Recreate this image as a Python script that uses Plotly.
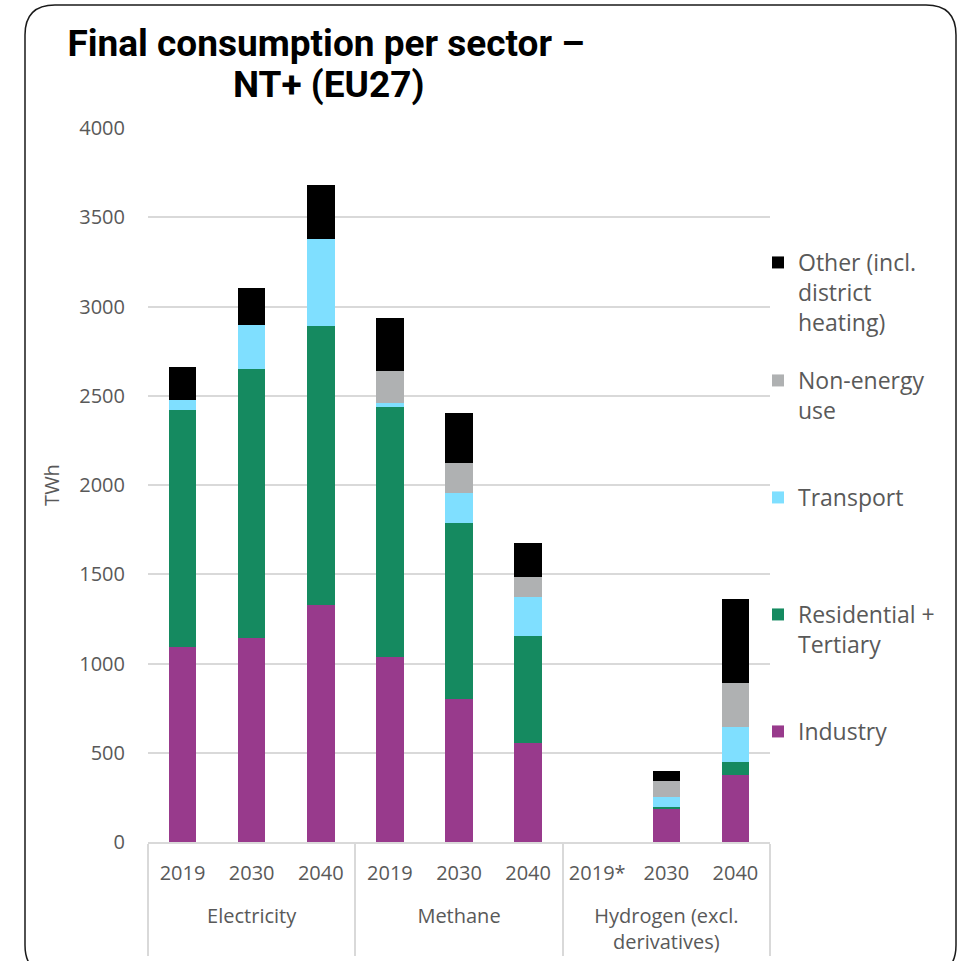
import plotly.graph_objects as go

# Final energy consumption by carrier and year (TWh)
carriers = ["Electricity"] * 3 + ["Methane"] * 3 + ["Hydrogen (excl.<br>derivatives)"] * 3
# hydrogen year labels carry a zero-width space so that "2019*" sorts first in its group
ZW = "\u200b"
years = ["2019", "2030", "2040", "2019", "2030", "2040", "2019*", "2030" + ZW, "2040" + ZW]

industry = [1092, 1143, 1328, 1036, 801, 555, 0, 185, 377]
residential_tertiary = [1328, 1505, 1563, 1401, 986, 599, 0, 11, 71]
transport = [54, 250, 489, 24, 168, 219, 0, 56, 196]
non_energy = [0, 0, 0, 178, 167, 113, 0, 91, 247]
other = [185, 204, 302, 297, 280, 189, 0, 53, 470]

series = [
    ("Industry", industry, "#983A8C"),
    ("Residential +<br>Tertiary", residential_tertiary, "#158A60"),
    ("Transport", transport, "#7FDFFF"),
    ("Non-energy<br>use", non_energy, "#AFB1B2"),
    ("Other (incl.<br>district<br>heating)", other, "#000000"),
]

W, H = 965, 961
L, R, T, B = 148, 770, 128, 842  # plot area in pixels


def px(x, y):
    return (x - L) / (R - L), (B - y) / (B - T)


FONT = "Open Sans, Lato, sans-serif"
TITLE_FONT = "Roboto, sans-serif"
GREY = "#595959"

fig = go.Figure()
legend_ids = ["legend", "legend2", "legend3", "legend4", "legend5"]
legend_tops = [710, 593, 476, 359, 241]  # pixel y of each legend entry

for (name, vals, color), lid in zip(series, legend_ids):
    fig.add_trace(go.Bar(
        x=[["<br>" + c for c in carriers], years], y=vals, name=name,
        marker=dict(color=color, line=dict(width=0)),
        legend=lid, showlegend=True,
    ))

legend_layout = {}
for lid, top in zip(legend_ids, legend_tops):
    legend_layout[lid] = dict(
        x=px(758, 0)[0], xanchor="left",
        y=px(0, top)[1], yanchor="top",
        bgcolor="rgba(0,0,0,0)", valign="top",
        font=dict(family=FONT, size=23, color=GREY),
    )

# rounded outer frame
x0, x1, y0, y1, r = 25, 956, 5, 975, 30


def P(x, y):
    a, b = px(x, y)
    return f"{a:.5f},{b:.5f}"


frame = (
    f"M {P(x0 + r, y0)} L {P(x1 - r, y0)} Q {P(x1, y0)} {P(x1, y0 + r)} "
    f"L {P(x1, y1 - r)} Q {P(x1, y1)} {P(x1 - r, y1)} "
    f"L {P(x0 + r, y1)} Q {P(x0, y1)} {P(x0, y1 - r)} "
    f"L {P(x0, y0 + r)} Q {P(x0, y0)} {P(x0 + r, y0)} Z"
)

fig.update_layout(
    width=W, height=H,
    margin=dict(l=L, r=W - R, t=T, b=H - B, autoexpand=False),
    paper_bgcolor="white", plot_bgcolor="white",
    barmode="stack", bargap=0.6, showlegend=True,
    title=dict(
        text="<b>Final consumption per sector –</b>",
        x=326 / W, xanchor="center", y=1 - 43 / H, yanchor="middle",
        font=dict(family=TITLE_FONT, size=37, color="#000000"),
    ),
    annotations=[dict(
        text="<b>NT+ (EU27)</b>", xref="paper", yref="paper",
        x=px(328, 0)[0], y=px(0, 84)[1], xanchor="center", yanchor="middle",
        showarrow=False, font=dict(family=TITLE_FONT, size=37, color="#000000"),
    )],
    xaxis=dict(
        type="multicategory",
        showline=True, linecolor="#D9D9D9", linewidth=1.5,
        showdividers=True, dividercolor="#D9D9D9", dividerwidth=1.5,
        ticklabelstandoff=12,
        tickfont=dict(family=FONT, size=20, color=GREY),
        showgrid=False,
    ),
    yaxis=dict(
        range=[0, 4000], dtick=500,
        showgrid=True, gridcolor="#D9D9D9", gridwidth=1.5,
        zeroline=False, showline=False,
        ticks="outside", ticklen=18, tickcolor="rgba(0,0,0,0)",
        tickfont=dict(family=FONT, size=20, color=GREY),
        title=dict(text="TWh", standoff=14, font=dict(family=FONT, size=20, color=GREY)),
    ),
    shapes=[dict(type="path", xref="paper", yref="paper", path=frame,
                 line=dict(color="#1A1A1A", width=1.5), layer="above")],
    **legend_layout,
)

fig.write_html("out.html")
